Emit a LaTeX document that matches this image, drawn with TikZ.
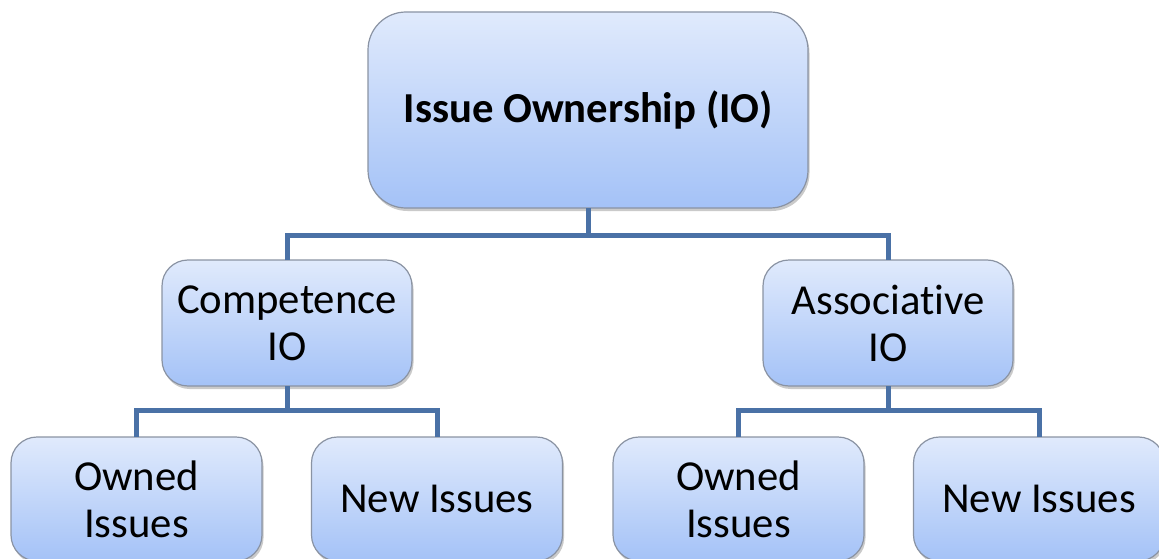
\documentclass[tikz,border=0pt]{standalone}
\usepackage{fontspec}
\setmainfont{Carlito}[Ligatures={NoCommon,NoContextual}]
\usetikzlibrary{shadows}
\definecolor{boxtop}{HTML}{E0EAFC}
\definecolor{boxbot}{HTML}{A4C2F7}
\definecolor{boxline}{HTML}{8A93A3}
\definecolor{conncol}{HTML}{4A71A6}
\tikzset{
  box/.style={rectangle, draw=boxline, line width=1.2pt, top color=boxtop, bottom color=boxbot,
    rounded corners=26pt, minimum width=250pt, minimum height=126pt, inner sep=0pt, outer sep=0pt,
    align=center, font=\fontsize{42.7}{47}\selectfont,
    drop shadow={shadow xshift=1.5pt, shadow yshift=-3pt, opacity=0.35, fill=black!60}},
  topbox/.style={box, rounded corners=38pt, minimum width=440pt, minimum height=196pt, font=\bfseries\fontsize{42.7}{47}\selectfont},
  leafbox/.style={box, minimum width=251pt, minimum height=124pt},
  conn/.style={draw=conncol, line width=5pt, line join=miter}
}
\begin{document}
\begin{tikzpicture}[x=1pt,y=-1pt]
\useasboundingbox (0,0) rectangle (1159,559);
\coordinate (j1) at (588,235);
\coordinate (j2) at (287,410);
\coordinate (j3) at (888,410);
\node[topbox] (top) at (588,110) {Issue Ownership (IO)};
\node[box] (comp) at (287,323) {Competence\\IO};
\node[box] (assoc) at (888,323) {Associative\\IO};
\node[leafbox] (own1) at (136.5,499) {Owned\\Issues};
\node[leafbox] (new1) at (437,499) {New Issues};
\node[leafbox] (own2) at (738.5,499) {Owned\\Issues};
\node[leafbox] (new2) at (1039,499) {New Issues};
\draw[conn] (top.south) -- (j1);
\draw[conn] (comp.north) |- (j1) -| (assoc.north);
\draw[conn] (comp.south) -- (j2);
\draw[conn] (own1.north) |- (j2) -| (new1.north);
\draw[conn] (assoc.south) -- (j3);
\draw[conn] (own2.north) |- (j3) -| (new2.north);
\end{tikzpicture}
\end{document}
